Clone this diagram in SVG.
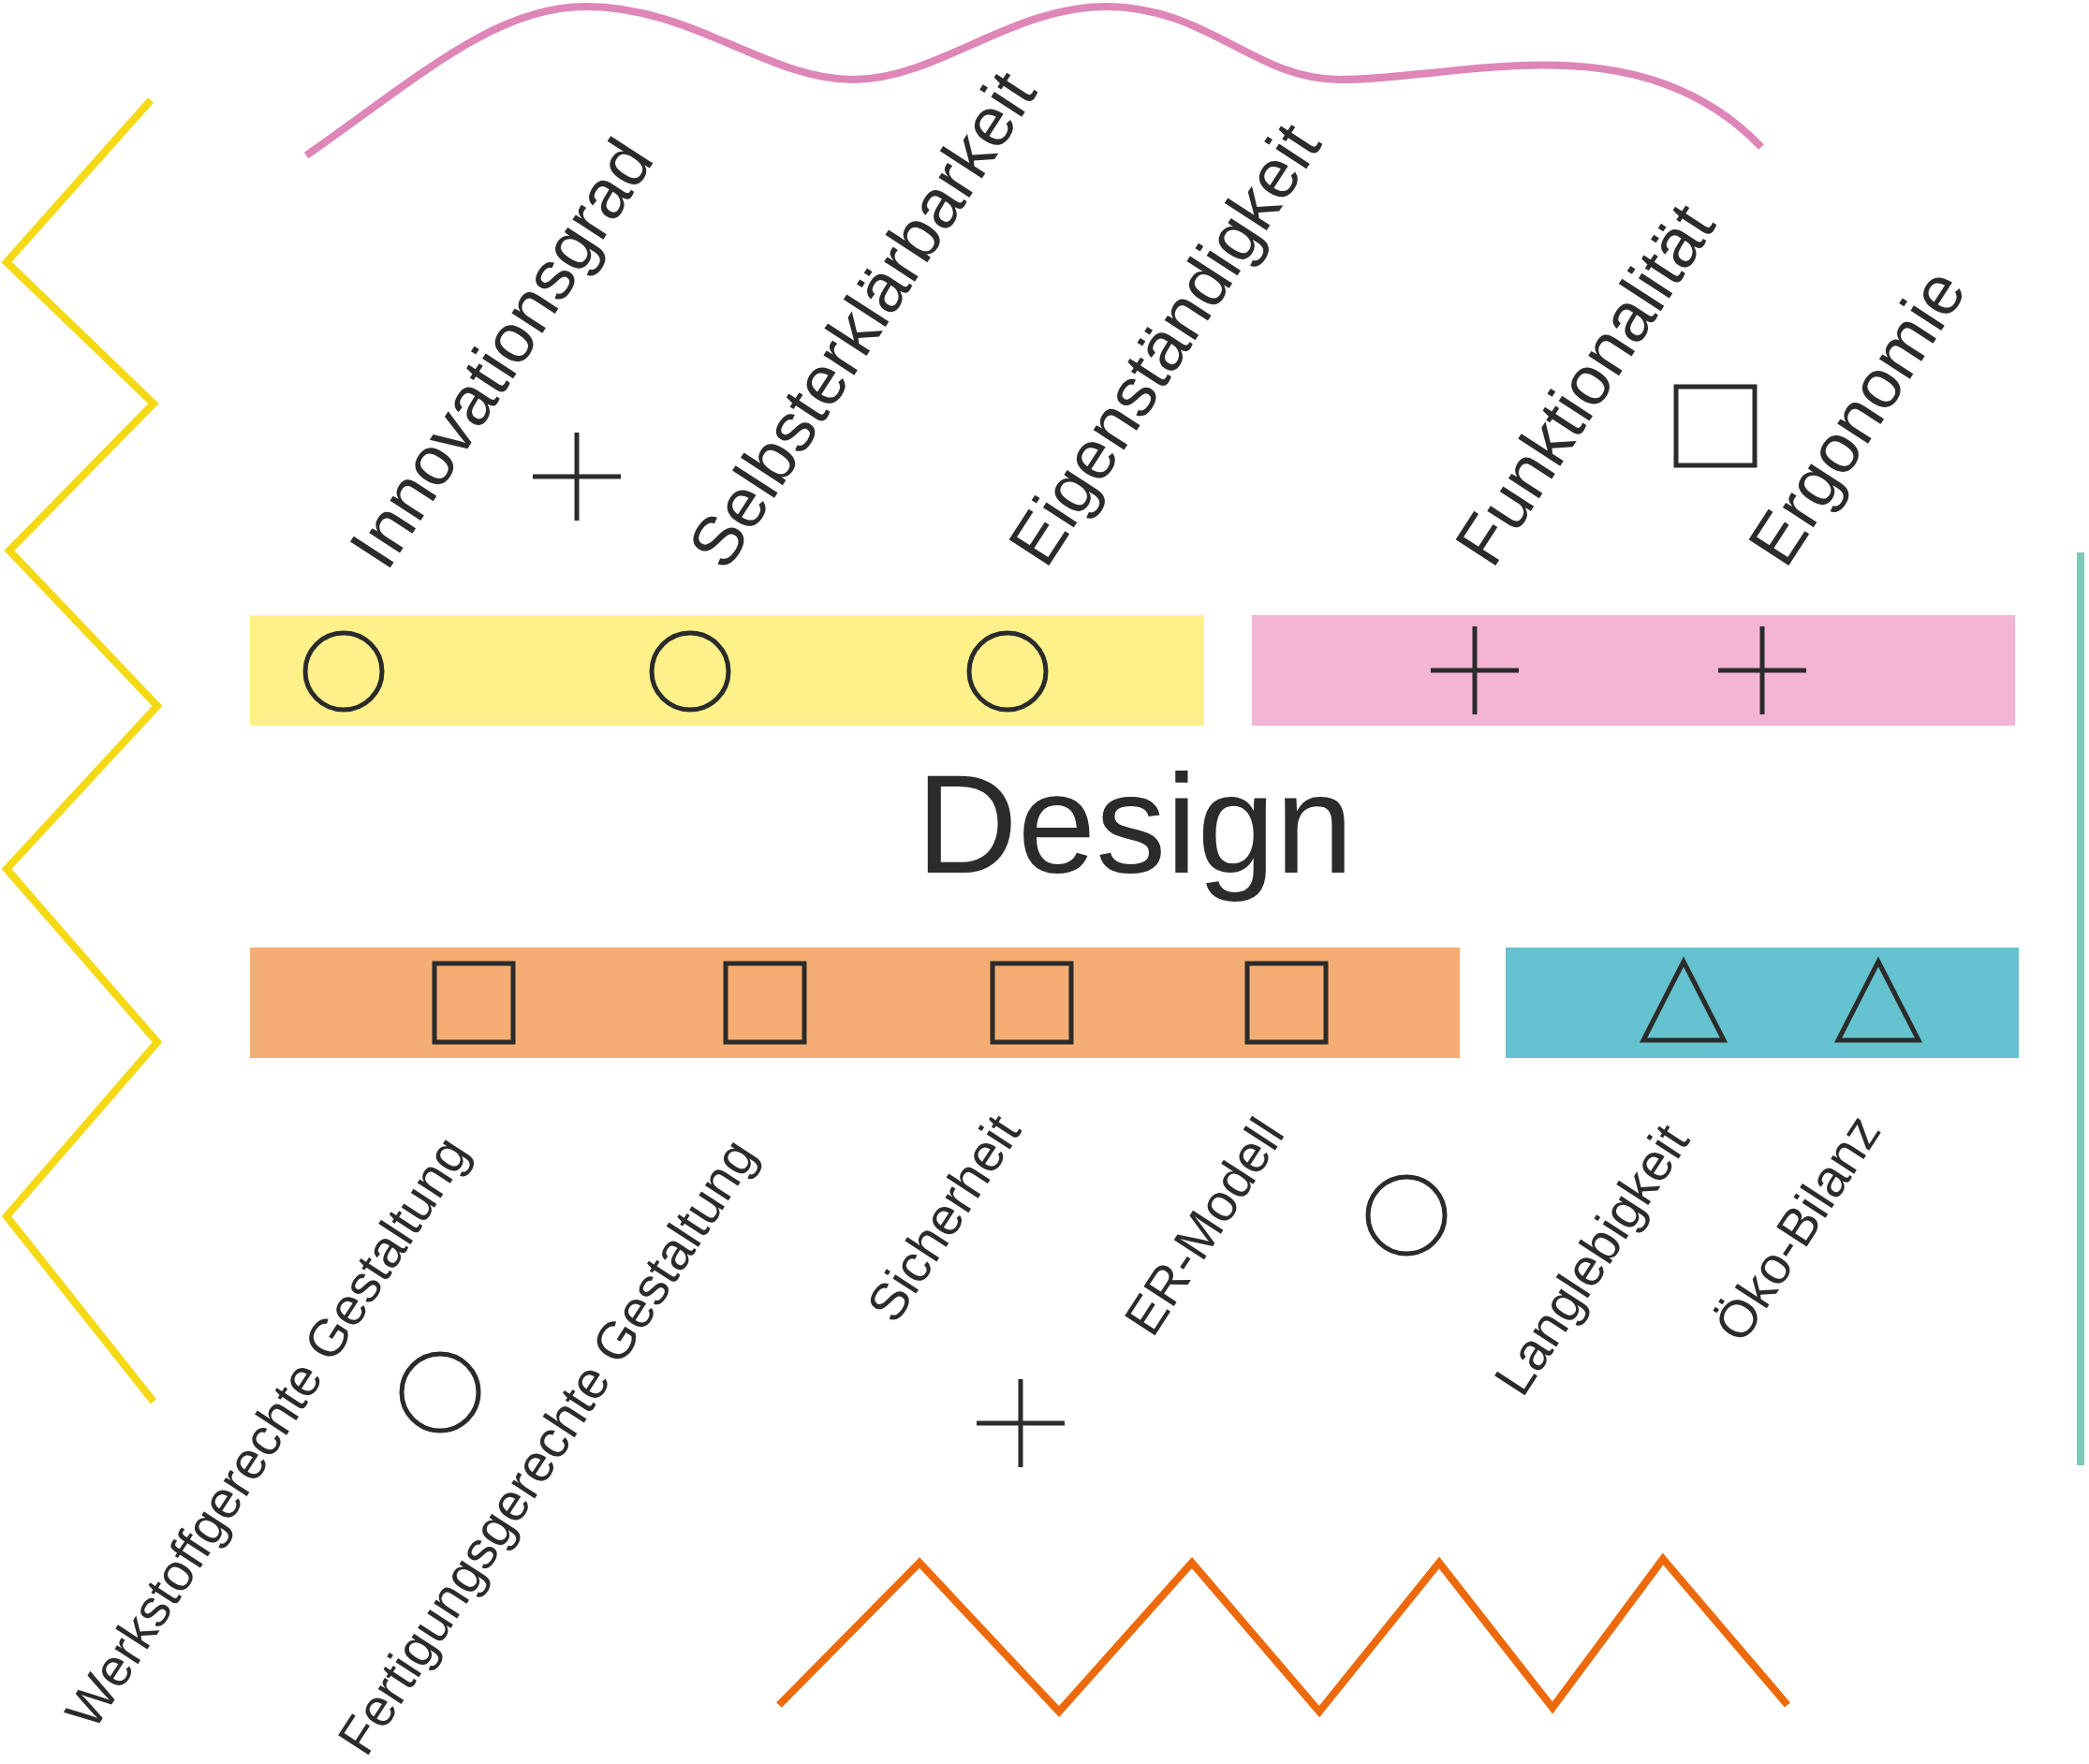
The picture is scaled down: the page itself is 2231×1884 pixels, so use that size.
<svg xmlns="http://www.w3.org/2000/svg" width="2231" height="1884" viewBox="0 0 2231 1884">
<style>
.t{font-family:"Liberation Sans",Arial,sans-serif;fill:#2b2b2b}
.s{fill:none;stroke:#2b2b2b;stroke-width:5}
</style>
<rect width="2231" height="1884" fill="#fff"/>
<g id="decor" fill="none" stroke-width="8">
<polyline stroke="#f5d915" points="161,107 7,280 164,431 10,588 168,754 7,928 168,1113 7,1299 164,1497"/>
<path stroke="#de86b8" d="M327,166 C450,80 530,7 626,7 C740,7 820,85 911,85 C1000,85 1080,7 1181,7 C1290,7 1340,85 1430,85 C1560,85 1750,20 1881,157"/>
<line stroke="#7ec8b8" x1="2222" y1="590" x2="2222" y2="1565"/>
<polyline stroke="#ec6a0c" points="832,1821 982,1669 1131,1828 1273,1669 1409,1828 1537,1669 1658,1824 1776,1665 1909,1821"/>
</g>
<g id="bars">
<rect x="267" y="657" width="1019" height="118" fill="#fff18a"/>
<rect x="1337" y="657" width="815" height="118" fill="#f4b4d4"/>
<rect x="267" y="1012" width="1292" height="118" fill="#f4ae73"/>
<rect x="1608" y="1012" width="548" height="118" fill="#65c3cf"/>
</g>
<g id="symbols" class="s">
<circle cx="367" cy="717" r="41"/><circle cx="737" cy="717" r="41"/><circle cx="1076" cy="717" r="41"/>
<path d="M1528,716h94M1575,669v94M1835,716h94M1882,669v94M569,509h94M616,462v94M1043,1520h94M1090,1473v94"/>
<rect x="464" y="1029" width="84" height="84"/><rect x="775" y="1029" width="84" height="84"/><rect x="1060" y="1029" width="84" height="84"/><rect x="1332" y="1029" width="84" height="84"/>
<rect x="1790" y="413" width="84" height="84"/>
<polygon points="1798,1027 1841,1111 1755,1111"/><polygon points="2006,1027 2049,1111 1963,1111"/>
<circle cx="470" cy="1487" r="41"/><circle cx="1502" cy="1298" r="41"/>
</g>
<g id="labels">
<text class="t" x="1212" y="932" font-size="150" text-anchor="middle">Design</text>
<g font-size="74">
<text class="t" transform="translate(413,612) rotate(-57)">Innovationsgrad</text>
<text class="t" transform="translate(775,612) rotate(-57)">Selbsterklärbarkeit</text>
<text class="t" transform="translate(1117,609) rotate(-57)">Eigenständigkeit</text>
<text class="t" transform="translate(1594,609) rotate(-57)">Funktionalität</text>
<text class="t" transform="translate(1907,609) rotate(-57)">Ergonomie</text>
</g>
<g font-size="56">
<text class="t" transform="translate(100,1850) rotate(-57)">Werkstoffgerechte Gestaltung</text>
<text class="t" transform="translate(391,1878) rotate(-57)">Fertigungsgerechte Gestaltung</text>
<text class="t" transform="translate(956,1416) rotate(-57)">Sicherheit</text>
<text class="t" transform="translate(1231,1430) rotate(-57)">ER-Modell</text>
<text class="t" transform="translate(1626,1494) rotate(-57)">Langlebigkeit</text>
<text class="t" transform="translate(1861,1437) rotate(-57)">Öko-Bilanz</text>
</g>
</g>
</svg>
